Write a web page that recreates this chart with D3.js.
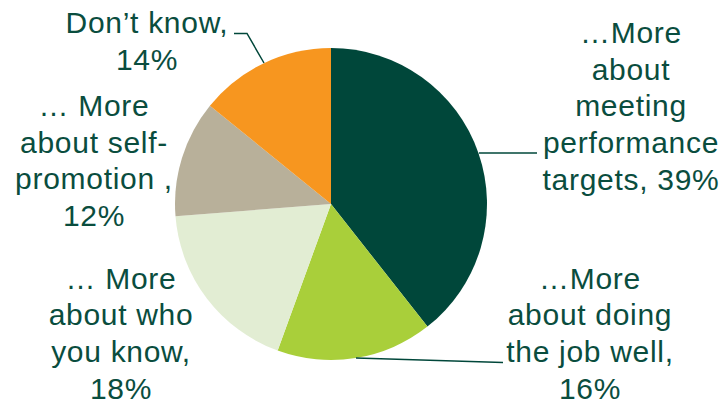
<!DOCTYPE html>
<html>
<head>
<meta charset="utf-8">
<script src="https://cdn.jsdelivr.net/npm/d3@7"></script>
<style>
  html, body { margin: 0; padding: 0; background: #fff; }
  svg { display: block; }
  text { font-family: "Liberation Sans", Arial, sans-serif; }
</style>
</head>
<body>
<svg id="chart" width="724" height="402"></svg>
<script>
// Survey answers, clockwise from 12 o'clock
const categories = [
  "…More about meeting performance targets",
  "…More about doing the job well",
  "… More about who you know",
  "… More about self-promotion",
  "Don’t know"
];
const values = [39, 16, 18, 12, 14];
const colors = ["#00473a", "#a9cf3a", "#e2edd3", "#b8b09a", "#f7961f"];

// Label text lines per slice
const labelLines = [
  ["…More", "about", "meeting", "performance", "targets, 39%"],
  ["…More", "about doing", "the job well,", "16%"],
  ["… More", "about who", "you know,", "18%"],
  ["… More", "about self-", "promotion ,", "12%"],
  ["Don’t know,", "14%"]
];
// Label anchor (centre x, first baseline y)
const labelPos = [
  [631, 43], [590, 288.5], [121, 288.5], [94, 116], [147, 33]
];

const svg = d3.select("#chart");
const cx = 331, cy = 204, r = 156;
const textColor = "#0a4d3e";

const pie = d3.pie().sort(null).value(d => d)(values);
const arc = d3.arc().innerRadius(0).outerRadius(r);

const g = svg.append("g").attr("transform", `translate(${cx},${cy})`);
g.selectAll("path")
  .data(pie)
  .join("path")
  .attr("d", arc)
  .attr("fill", (d, i) => colors[i]);

// Leader lines (absolute coordinates of label connectors)
const leaders = [
  [[479, 153], [537, 153]],
  [[356, 358], [503, 362.5]],
  [[264, 63], [247, 33.5], [234, 33.5]]
];
const line = d3.line();
svg.selectAll("path.leader")
  .data(leaders)
  .join("path")
  .attr("class", "leader")
  .attr("d", line)
  .attr("fill", "none")
  .attr("stroke", "#00473a")
  .attr("stroke-width", 1.5);

const lineH = 36.7;
labelLines.forEach((lines, i) => {
  const t = svg.append("text")
    .attr("text-anchor", "middle")
    .attr("fill", textColor)
    .attr("font-size", 30)
    .attr("letter-spacing", 0.7);
  lines.forEach((s, k) => {
    t.append("tspan")
      .attr("x", labelPos[i][0])
      .attr("y", labelPos[i][1] + k * lineH)
      .text(s);
  });
});
</script>
</body>
</html>
